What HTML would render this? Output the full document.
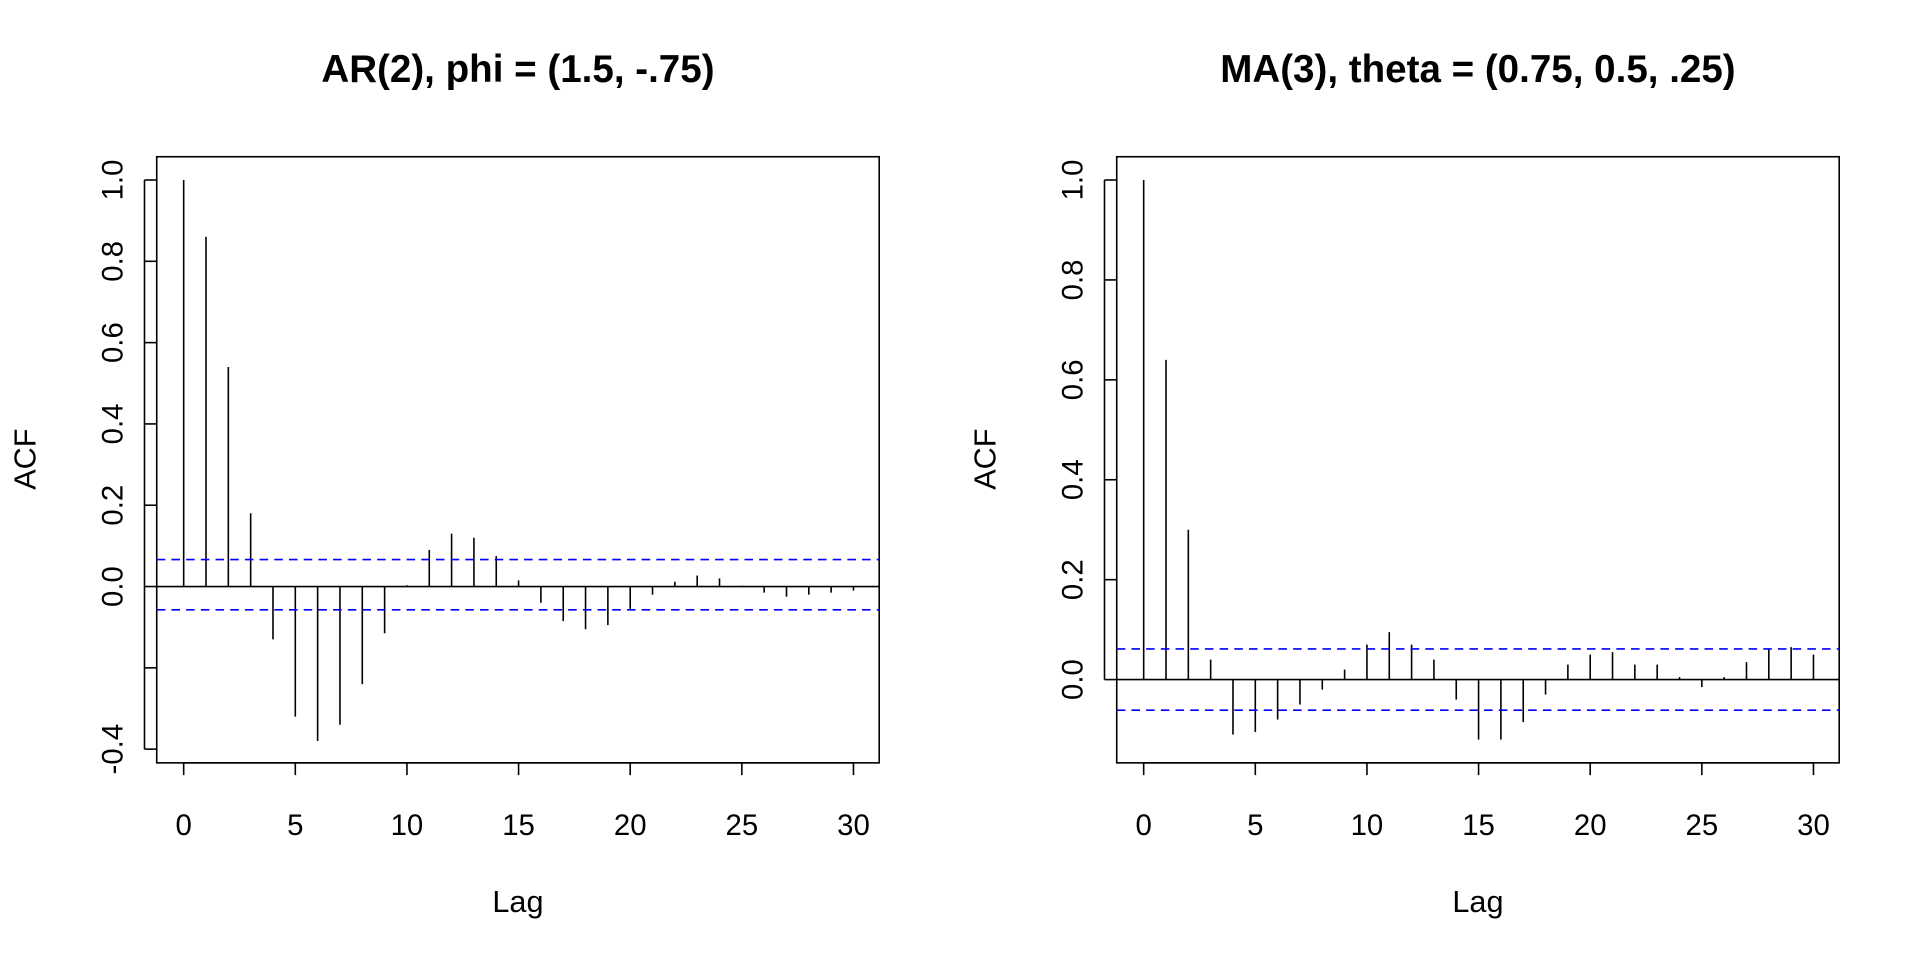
<!DOCTYPE html>
<html><head><style>html,body{margin:0;padding:0;background:#fff}svg{display:block}</style></head>
<body>
<svg id="s" width="1920" height="960" viewBox="0 0 1568 784" xmlns="http://www.w3.org/2000/svg" font-family="Liberation Sans, Arial, sans-serif">
<rect width="1568" height="784" fill="#fff"/>
</svg>
<script>
const s=document.getElementById('s');const NS='http://www.w3.org/2000/svg';
function el(t,a,txt){const e=document.createElementNS(NS,t);for(const k in a)e.setAttribute(k,a[k]);if(txt!==undefined)e.textContent=txt;s.appendChild(e);return e;}
function panel(o){
 const {x0,x1,y0,y1,yz,yu,vals,title,yt,ci}=o;
 const lx=l=>150+(x0-128)+l*(547/30);
 const vy=v=>yz-v*yu;
 el('rect',{x:x0,y:y0,width:x1-x0,height:y1-y0,fill:'none',stroke:'#000','stroke-width':1.3});
 el('text',{x:(x0+x1)/2,y:67,'text-anchor':'middle','font-size':31.5,'font-weight':'bold'},title);
 el('text',{x:(x0+x1)/2,y:745,'text-anchor':'middle','font-size':25},'Lag');
 el('text',{x:0,y:0,'text-anchor':'middle','font-size':25,transform:`translate(${x0-99},375) rotate(-90)`},'ACF');
 for(let l=0;l<=30;l+=5){const X=lx(l);el('line',{x1:X,x2:X,y1:y1,y2:y1+10,stroke:'#000','stroke-width':1.3});el('text',{x:X,y:682,'text-anchor':'middle','font-size':24},String(l));}
 el('line',{x1:lx(0),x2:lx(30),y1:y1,y2:y1,stroke:'#000','stroke-width':1.3});
 yt.forEach(([v,lab])=>{const Y=vy(v);el('line',{x1:x0-10,x2:x0,y1:Y,y2:Y,stroke:'#000','stroke-width':1.3});if(lab)el('text',{x:0,y:0,'text-anchor':'middle','font-size':24,transform:`translate(${x0-28},${Y}) rotate(-90)`},lab);});
 el('line',{x1:x0-10,x2:x0-10,y1:vy(yt[0][0]),y2:vy(yt[yt.length-1][0]),stroke:'#000','stroke-width':1.3});
 el('line',{x1:x0,x2:x1,y1:yz,y2:yz,stroke:'#000','stroke-width':1.3});
 vals.forEach((v,i)=>{const X=lx(i);el('line',{x1:X,x2:X,y1:yz,y2:vy(v),stroke:'#000','stroke-width':1.3});});
 ci.forEach(Y=>el('line',{x1:x0,x2:x1,y1:Y,y2:Y,stroke:'#0000ff','stroke-width':1.3,'stroke-dasharray':'7,5'}));
}
panel({x0:128,x1:718,y0:128,y1:623,yz:479,yu:332,title:'AR(2), phi = (1.5, -.75)',ci:[457,498],
 yt:[[-0.4,'-0.4'],[-0.2,''],[0,'0.0'],[0.2,'0.2'],[0.4,'0.4'],[0.6,'0.6'],[0.8,'0.8'],[1,'1.0']],
 vals:[1,.86,.54,.18,-.13,-.32,-.38,-.34,-.24,-.115,.003,.09,.13,.12,.075,.015,-.04,-.085,-.105,-.095,-.055,-.02,.012,.027,.02,.002,-.015,-.025,-.02,-.015,-.01]});
panel({x0:912,x1:1502,y0:128,y1:623,yz:555,yu:408,title:'MA(3), theta = (0.75, 0.5, .25)',ci:[530,580],
 yt:[[0,'0.0'],[0.2,'0.2'],[0.4,'0.4'],[0.6,'0.6'],[0.8,'0.8'],[1,'1.0']],
 vals:[1,.64,.30,.04,-.11,-.105,-.08,-.05,-.02,.02,.07,.095,.07,.04,-.04,-.12,-.12,-.085,-.03,.03,.05,.055,.03,.03,.005,-.015,.005,.035,.06,.065,.05]});
</script>
</body></html>
